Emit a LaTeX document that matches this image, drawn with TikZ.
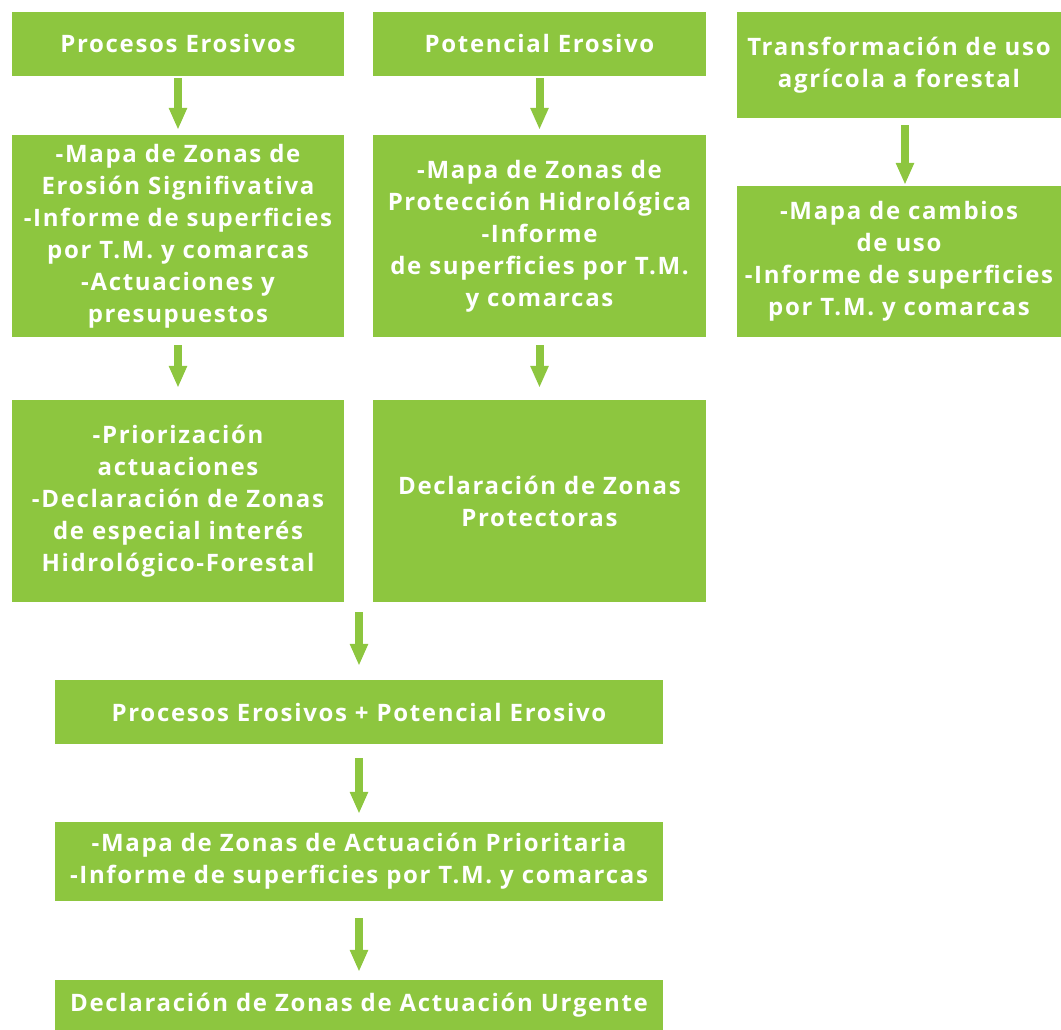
\documentclass[tikz,border=0pt]{standalone}
\usepackage{fontspec}
\setmainfont{Open Sans}[LetterSpace=7]
\usepackage{tikz}
\usetikzlibrary{arrows.meta,positioning}
\definecolor{LeafGreen}{HTML}{8DC63F}
\tikzset{
  flowarrow/.style={-{Triangle[length=22pt,width=17pt]},line width=8pt,draw=LeafGreen},
  stage/.style={fill=LeafGreen,text=white,align=center,inner sep=0pt,
    font=\fontsize{24}{32}\selectfont\bfseries}
}
\begin{document}
\begin{tikzpicture}[x=1pt,y=-1pt]
  \useasboundingbox (0,0) rectangle (1061,1030);
  % first row
  \node[stage,minimum width=332pt,minimum height=64pt] (proc) at (178,44) {Procesos Erosivos};
  \node[stage,minimum width=333pt,minimum height=64pt] (pot) at (539.5,44) {Potencial Erosivo};
  \node[stage,minimum width=324pt,minimum height=106pt] (trans) at (899,65) {Transformación de uso\\agrícola a forestal};
  % second row
  \node[stage,minimum width=332pt,minimum height=202pt] (procmap) at (178,236)
    {-Mapa de Zonas de\\Erosión Signifivativa\\-Informe de superficies\\por T.M. y comarcas\\-Actuaciones y\\presupuestos};
  \node[stage,minimum width=333pt,minimum height=202pt] (potmap) at (539.5,236)
    {-Mapa de Zonas de\\Protección Hidrológica\\-Informe\\de superficies por T.M.\\y comarcas};
  \node[stage,minimum width=324pt,minimum height=151pt] (transmap) at (899,261.5)
    {-Mapa de cambios\\de uso\\-Informe de superficies\\por T.M. y comarcas};
  % third row
  \node[stage,minimum width=332pt,minimum height=202pt] (procdecl) at (178,501)
    {-Priorización\\actuaciones\\-Declaración de Zonas\\de especial interés\\Hidrológico-Forestal};
  \node[stage,minimum width=333pt,minimum height=202pt] (potdecl) at (539.5,501)
    {Declaración de Zonas\\Protectoras};
  % joint chain
  \coordinate (join) at (359,612);
  \node[stage,minimum width=608pt,minimum height=64pt] (both) at (359,712) {Procesos Erosivos + Potencial Erosivo};
  \node[stage,minimum width=608pt,minimum height=79pt] (prio) at (359,861.5)
    {-Mapa de Zonas de Actuación Prioritaria\\-Informe de superficies por T.M. y comarcas};
  \node[stage,minimum width=608pt,minimum height=50pt] (urg) at (359,1005) {Declaración de Zonas de Actuación Urgente};
  % arrows
  \draw[flowarrow,shorten <=2pt,shorten >=5pt] (proc) -- (procmap);
  \draw[flowarrow,shorten <=2pt,shorten >=5pt] (pot) -- (potmap);
  \draw[flowarrow,shorten <=7pt,shorten >=1pt] ([xshift=6pt]trans.south) -- ([xshift=6pt]transmap.north);
  \draw[flowarrow,shorten <=8pt,shorten >=12pt] (procmap) -- (procdecl);
  \draw[flowarrow,shorten <=8pt,shorten >=12pt] (potmap) -- (potdecl);
  \draw[flowarrow,shorten >=14pt] (join) -- (both);
  \draw[flowarrow,shorten <=14pt,shorten >=8pt] (both) -- (prio);
  \draw[flowarrow,shorten <=17pt,shorten >=8pt] (prio) -- (urg);
\end{tikzpicture}
\end{document}
